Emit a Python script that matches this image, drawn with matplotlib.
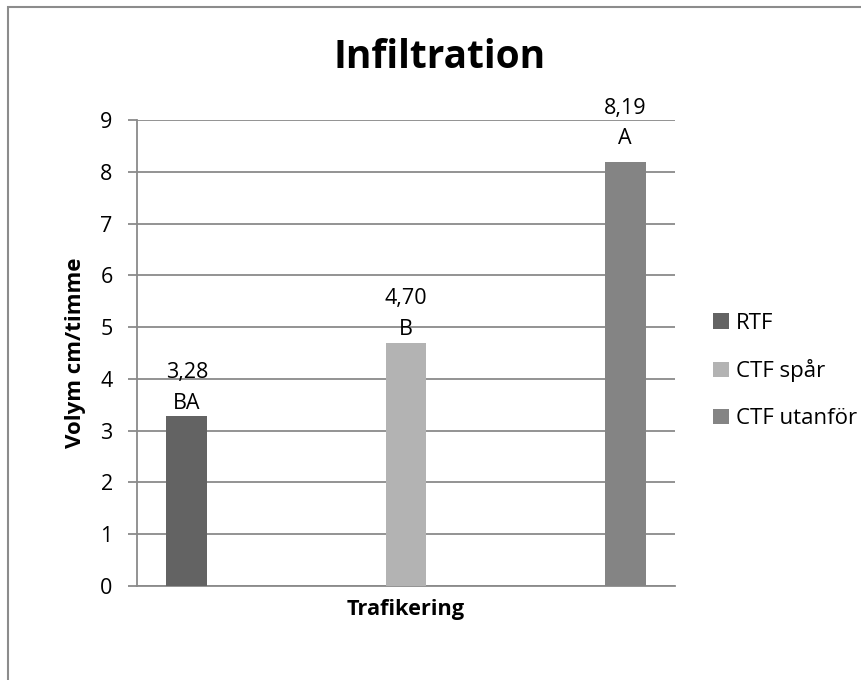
import matplotlib
matplotlib.use("Agg")
import matplotlib.pyplot as plt
from matplotlib.patches import Rectangle

plt.rcParams['font.family'] = ['Open Sans', 'DejaVu Sans']

# Data
series = ["RTF", "CTF spår", "CTF utanför"]
values = [3.28, 4.70, 8.19]
value_labels = ["3,28", "4,70", "8,19"]
letters = ["BA", "B", "A"]
colors = ["#636363", "#b3b3b3", "#848484"]
yticks = [0, 1, 2, 3, 4, 5, 6, 7, 8, 9]

# label offsets above each bar (points), the last one sits a bit higher in the original
label_offsets = [1.5, 2, 9]

W, H = 862, 680
fig = plt.figure(figsize=(W / 100, H / 100), dpi=100)

# Outer chart frame (only left and top visible in the picture)
fig.patches.append(Rectangle((8 / W, -0.1), 1.2, (H - 7) / H + 0.1,
                             transform=fig.transFigure, fill=False,
                             edgecolor="#8c8c8c", linewidth=1.5))

ax = fig.add_axes([137 / W, 94 / H, 538 / W, 466 / H])

positions = [-1, 0, 1]
for i in range(len(series)):
    ax.bar(positions[i], values[i], width=0.187, color=colors[i], label=series[i], zorder=3)
    ax.annotate(value_labels[i] + "\n" + letters[i], (positions[i], values[i]),
                xytext=(0, label_offsets[i]), textcoords="offset points",
                ha="center", va="bottom", fontsize=15.5, linespacing=1.6,
                annotation_clip=False)

ax.set_xlim(-1.227, 1.227)
ax.set_ylim(0, 9)
ax.set_yticks(yticks)
ax.set_xticks([])
ax.yaxis.grid(True, color="#8a8a8a", linewidth=1.3, zorder=0)
ax.set_axisbelow(True)
ax.tick_params(axis="y", length=6.5, width=1.3, color="#8a8a8a", labelsize=15.5, pad=11)
for s in ["top", "right"]:
    ax.spines[s].set_visible(False)
for s in ["left", "bottom"]:
    ax.spines[s].set_color("#8a8a8a")
    ax.spines[s].set_linewidth(1.3)

fig.text(440 / W, 1 - 58 / H, "Infiltration", ha="center", va="center",
         fontsize=28, fontweight="bold")
fig.text(406 / W, 1 - 610 / H, "Trafikering", ha="center", va="center",
         fontsize=15.7, fontweight="bold")
fig.text(75 / W, 1 - 353 / H, "Volym cm/timme", ha="center", va="center",
         rotation=90, fontsize=16, fontweight="bold")

leg = fig.legend(loc="center left", bbox_to_anchor=(713 / W, 1 - 371 / H),
                 frameon=False, fontsize=16, handlelength=0.7, handleheight=0.7,
                 handletextpad=0.35, labelspacing=1.15, borderaxespad=0, borderpad=0)

fig.savefig("out.png", dpi=100)
